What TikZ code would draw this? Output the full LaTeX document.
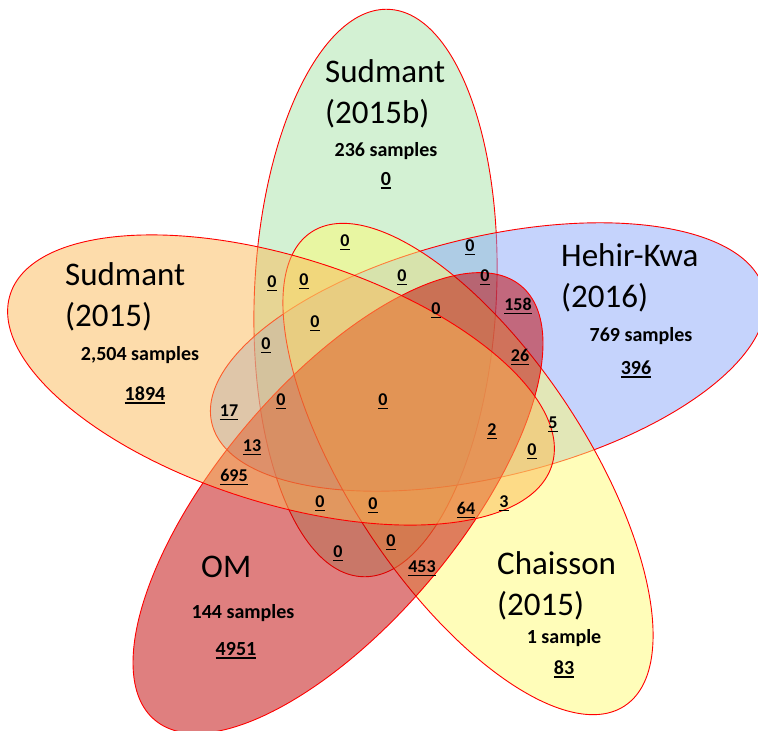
\documentclass[tikz,border=0pt]{standalone}
\usepackage{fontspec}
\setmainfont{Carlito}

\definecolor{sbgreen}{RGB}{167,227,167}
\definecolor{hkblue}{RGB}{139,167,249}
\definecolor{chyellow}{RGB}{255,251,115}
\definecolor{omred}{RGB}{192,0,0}
\definecolor{sdorange}{RGB}{251,185,87}

\newsavebox\undlbox
\newcommand{\undl}[1]{\sbox\undlbox{#1}\rlap{\rule[-3.4pt]{\wd\undlbox}{1.7pt}}\usebox\undlbox}

\begin{document}
\begin{tikzpicture}[x = 1pt, y = -1pt,
                    venn/.style = {draw = red, line width = 0.9pt, fill opacity = 0.5},
                    title/.style = {font = \fontsize{33}{40}\selectfont, anchor = base west, inner sep = 0pt},
                    info/.style = {font = \fontsize{20}{24}\selectfont\bfseries, text height = 13pt, text depth = 0pt, inner sep = 0pt},
                    cnt/.style = {font = \fontsize{18}{22}\selectfont\bfseries, text height = 11.6pt, text depth = 0pt, inner sep = 0pt}]
  \useasboundingbox (0, 0) rectangle (758, 731);
  \clip (0, 0) rectangle (758, 731);

  % the five sets, bottom to top
  \draw [venn, fill = sbgreen, shift = {(375.5, 293)}, rotate = 87.3] (0, 0) ellipse [x radius = 284, y radius = 121];
  \draw [venn, fill = hkblue, shift = {(488, 357)}, rotate = 13.5] (0, 0) ellipse [x radius = 284, y radius = 120];
  \draw [venn, fill = chyellow, shift = {(468, 469)}, rotate = -56.5] (0, 0) ellipse [x radius = 284, y radius = 118];
  \draw [venn, fill = omred, shift = {(338, 503)}, rotate = 49.8] (0, 0) ellipse [x radius = 284, y radius = 120];
  \draw [venn, fill = sdorange, shift = {(281, 380)}, rotate = -17.5] (0, 0) ellipse [x radius = 284, y radius = 123];

  % set names
  \node [title] (SBname) at (325, 82) {Sudmant};
  \node [title] (SByear) at ([yshift = -41pt] SBname.base west) {(2015b)};
  \node [title] (SDname) at (65, 285) {Sudmant};
  \node [title] (SDyear) at ([yshift = -41pt] SDname.base west) {(2015)};
  \node [title] (HKname) at (561, 266) {Hehir-Kwa};
  \node [title] (HKyear) at ([yshift = -41pt] HKname.base west) {(2016)};
  \node [title] (OMname) at (201, 577) {OM};
  \node [title] (CHname) at (497, 574) {Chaisson};
  \node [title] (CHyear) at ([yshift = -41pt] CHname.base west) {(2015)};

  % sample sizes and set totals
  \node [info] (SBsize) at (386, 150) {236 samples};
  \node [info] (SBtot) at (386, 179) {\undl{0}};
  \node [info] (SDsize) at (140, 354) {2,504 samples};
  \node [info] (SDtot) at (145, 394) {\undl{1894}};
  \node [info] (HKsize) at (641, 335) {769 samples};
  \node [info] (HKtot) at (636, 368) {\undl{396}};
  \node [info] (OMsize) at (243, 612) {144 samples};
  \node [info] (OMtot) at (236, 649) {\undl{4951}};
  \node [info] (CHsize) at (564, 637) {1 sample};
  \node [info] (CHtot) at (564, 668) {\undl{83}};

  % overlaps
  \node [cnt] (R1) at (345, 241) {\undl{0}};
  \node [cnt] (R2) at (470, 246) {\undl{0}};
  \node [cnt] (R3) at (272, 282) {\undl{0}};
  \node [cnt] (R4) at (304, 280) {\undl{0}};
  \node [cnt] (R5) at (402, 276) {\undl{0}};
  \node [cnt] (R6) at (485, 276) {\undl{0}};
  \node [cnt] (R7) at (436, 309) {\undl{0}};
  \node [cnt] (R8) at (518, 305) {\undl{158}};
  \node [cnt] (R9) at (315, 322) {\undl{0}};
  \node [cnt] (R10) at (266, 344) {\undl{0}};
  \node [cnt] (R11) at (520, 356) {\undl{26}};
  \node [cnt] (R12) at (281, 400) {\undl{0}};
  \node [cnt] (R13) at (383, 400) {\undl{0}};
  \node [cnt] (R14) at (229, 411) {\undl{17}};
  \node [cnt] (R15) at (553, 423) {\undl{5}};
  \node [cnt] (R16) at (492, 430) {\undl{2}};
  \node [cnt] (R17) at (252, 446) {\undl{13}};
  \node [cnt] (R18) at (532, 450) {\undl{0}};
  \node [cnt] (R19) at (234, 476) {\undl{695}};
  \node [cnt] (R20) at (320, 502) {\undl{0}};
  \node [cnt] (R21) at (373, 504) {\undl{0}};
  \node [cnt] (R22) at (466, 509) {\undl{64}};
  \node [cnt] (R23) at (504, 502) {\undl{3}};
  \node [cnt] (R24) at (391, 541) {\undl{0}};
  \node [cnt] (R25) at (338, 552) {\undl{0}};
  \node [cnt] (R26) at (422, 567) {\undl{453}};
\end{tikzpicture}
\end{document}
